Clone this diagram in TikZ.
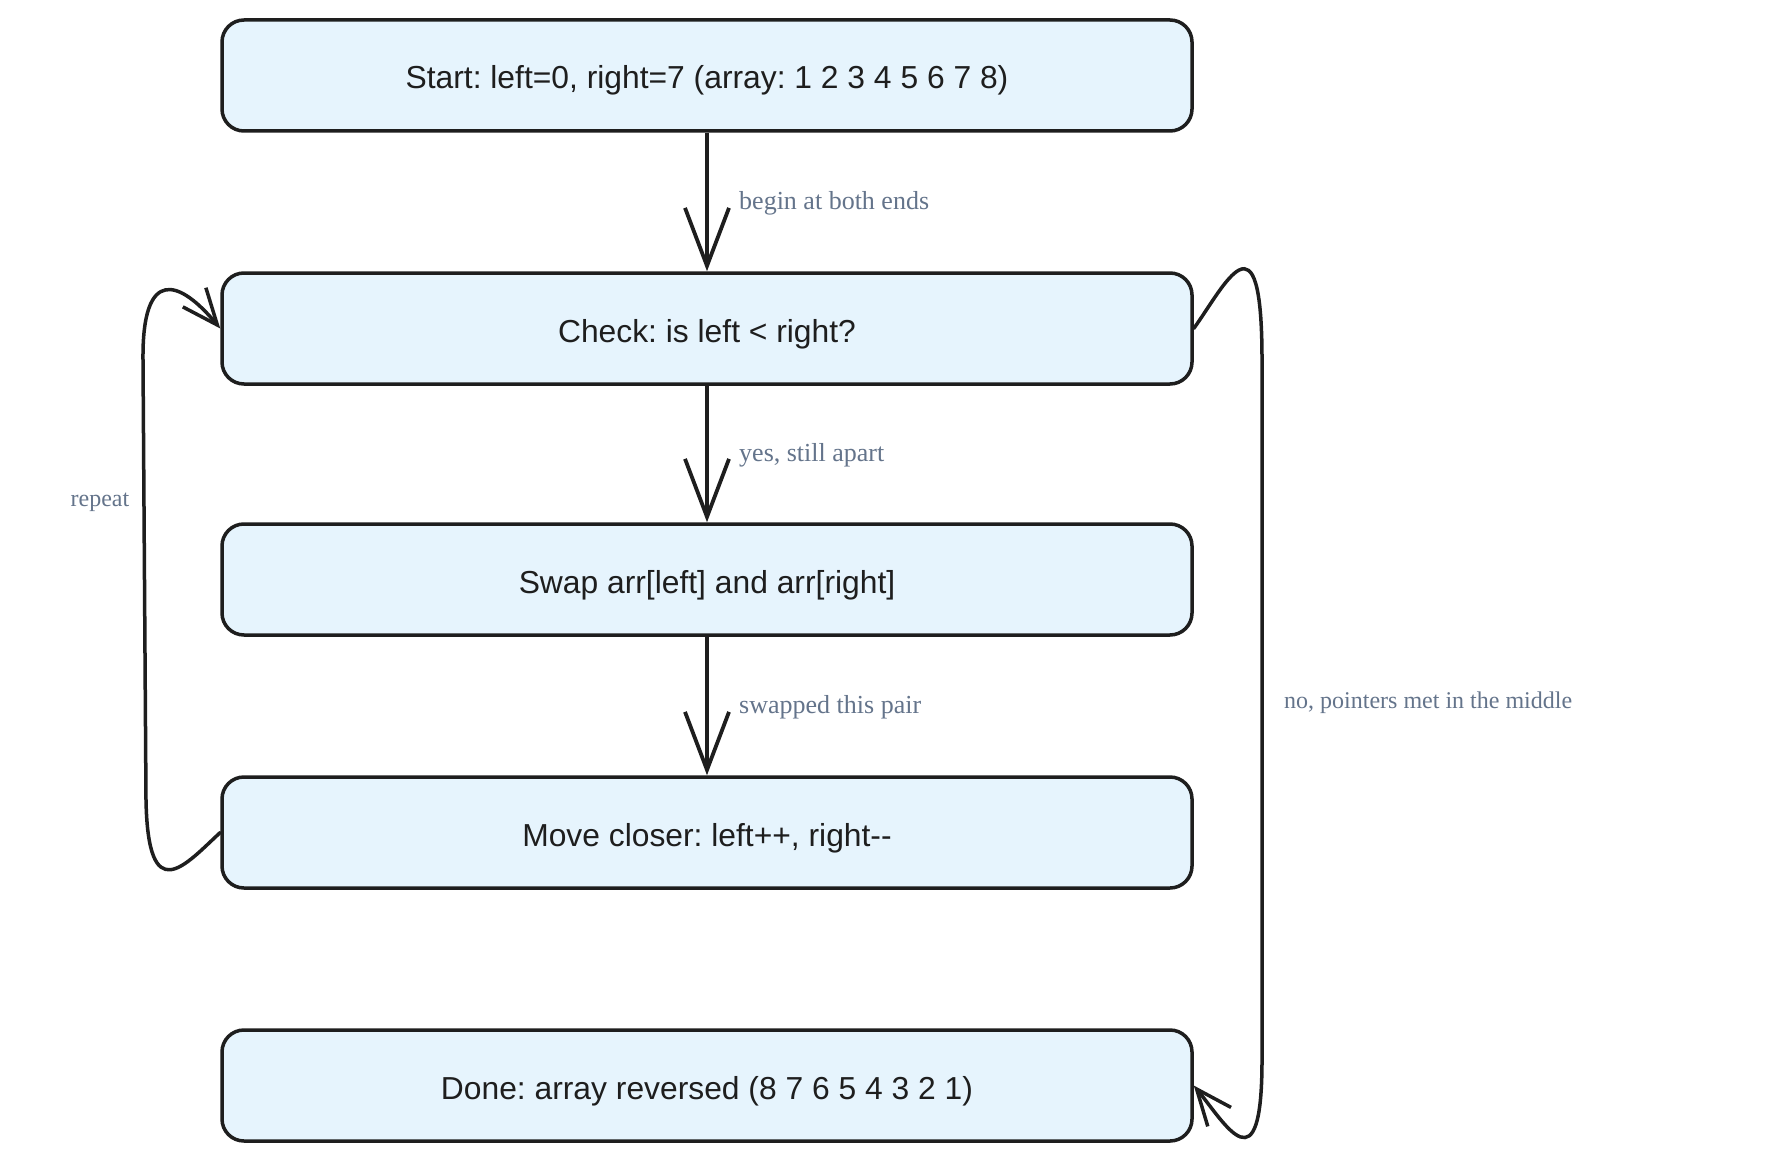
\documentclass[tikz,border=0pt]{standalone}
\usepackage{fontspec}
\setmainfont{Liberation Serif}
\newfontfamily\boxfont{Liberation Sans}
\usetikzlibrary{arrows.meta}
\definecolor{boxfill}{HTML}{E6F4FD}
\definecolor{ink}{HTML}{1E1E1E}
\definecolor{lbl}{HTML}{64748B}
\frenchspacing
\tikzset{
  flowbox/.style={draw=ink, fill=boxfill, line width=3.5pt, rounded corners=22pt,
    minimum width=970pt, minimum height=111pt, inner sep=0pt,
    text height=27pt, text depth=0pt,
    font=\boxfont\fontsize{31.8}{36}\selectfont, text=ink},
  edgelbl/.style={font=\fontsize{24}{28}\selectfont, text=lbl, inner sep=0pt},
  edgelblb/.style={font=\fontsize{26}{30}\selectfont, text=lbl, inner sep=0pt},
  bigarrow/.style={draw=ink, line width=3.8pt, -{Straight Barb[length=58pt,width=44pt,line width=3.8pt]}},
  loopline/.style={draw=ink, line width=3.5pt, line cap=round, -{Straight Barb[length=36pt,width=30pt,line width=3.5pt]}}
}
\begin{document}
\begin{tikzpicture}[x=1pt,y=-1pt]
\useasboundingbox (0,0) rectangle (1776,1161);
\fill[white] (0,0) rectangle (1776,1161);
\node[flowbox] (b1) at (707,75.5) {Start: left=0, right=7 (array: 1 2 3 4 5 6 7 8)};
\node[flowbox] (b2) at (707,328.5) {Check: is left < right?};
\node[flowbox] (b3) at (707,579.5) {Swap arr[left] and arr[right]};
\node[flowbox] (b4) at (707,832.5) {Move closer: left++, right--};
\node[flowbox] (b5) at (707,1085.5) {Done: array reversed (8 7 6 5 4 3 2 1)};

\draw[bigarrow] (b1.south) -- (b2.north);
\draw[bigarrow] (b2.south) -- (b3.north);
\draw[bigarrow] (b3.south) -- (b4.north);

\node[edgelblb, anchor=west] (l1) at (739,203) {begin at both ends};
\node[edgelblb, anchor=west] (l2) at (739,455) {yes, still apart};
\node[edgelblb, anchor=west] (l3) at (739,707) {swapped this pair};

\draw[loopline] (b4.west) .. controls (185,865) and (148,910) .. (146,800)
  -- (143,360) .. controls (142,265) and (180,280) .. (b2.west);
\node[edgelbl] (l4) at (100,502) {repeat};

\draw[loopline] (b2.east) .. controls (1225,285) and (1262,205) .. (1262,360)
  -- (1262,1060) .. controls (1262,1190) and (1226,1125) .. (b5.east);
\node[edgelbl, anchor=west] (l5) at (1284,703) {no, pointers met in the middle};
\end{tikzpicture}
\end{document}
